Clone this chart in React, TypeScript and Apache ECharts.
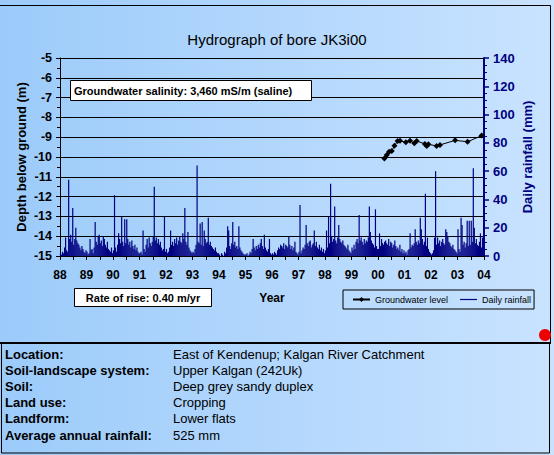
import { useEffect, useRef } from "react";
import * as echarts from "echarts";

const FONT = "'Liberation Sans', Arial, sans-serif";
const NAVY = "#000080";

// Daily rainfall (mm), ~26 readings per year (about fortnightly resolution)
const rainYears = [1988, 1989, 1990, 1991, 1992, 1993, 1994, 1995, 1996, 1997, 1998, 1999, 2000, 2001, 2002, 2003];
const rain1988 = [2, 1, 3, 2, 6, 13, 4, 3, 54, 12, 15, 10, 34, 8, 12, 20, 11, 9, 8, 6, 4, 7, 5, 3, 2, 4];
const rain1989 = [3, 1, 2, 12, 4, 5, 2, 6, 24, 10, 8, 14, 15, 9, 11, 7, 14, 12, 8, 6, 10, 5, 4, 3, 6, 2];
const rain1990 = [4, 43, 6, 3, 8, 16, 12, 9, 28, 10, 7, 26, 9, 26, 12, 8, 10, 6, 11, 7, 5, 8, 4, 6, 3, 2];
const rain1991 = [2, 3, 1, 18, 5, 3, 8, 12, 6, 13, 9, 7, 10, 14, 49, 11, 13, 9, 12, 8, 10, 6, 4, 5, 28, 3];
const rain1992 = [5, 2, 3, 6, 18, 8, 10, 7, 12, 9, 13, 8, 11, 14, 10, 9, 16, 12, 34, 10, 8, 17, 6, 4, 3, 2];
const rain1993 = [3, 2, 5, 8, 64, 10, 9, 23, 8, 24, 7, 18, 12, 9, 10, 27, 8, 10, 7, 6, 5, 4, 6, 3, 2, 2];
const rain1994 = [1, 0, 2, 1, 0, 3, 2, 6, 21, 18, 7, 5, 9, 24, 8, 10, 6, 7, 5, 21, 6, 4, 3, 2, 1, 1];
const rain1995 = [1, 2, 0, 1, 3, 2, 5, 12, 6, 4, 7, 5, 8, 6, 9, 12, 7, 5, 15, 6, 4, 3, 5, 12, 2, 1];
const rain1996 = [2, 1, 3, 2, 1, 4, 6, 5, 8, 7, 6, 9, 5, 8, 7, 6, 14, 8, 5, 7, 4, 6, 10, 3, 2, 1];
const rain1997 = [3, 36, 2, 4, 6, 5, 8, 22, 9, 7, 10, 11, 6, 8, 9, 18, 7, 10, 6, 5, 8, 4, 6, 3, 5, 2];
const rain1998 = [4, 18, 6, 28, 9, 51, 14, 10, 12, 35, 11, 9, 13, 22, 12, 10, 9, 11, 8, 7, 6, 5, 8, 4, 3, 2];
const rain1999 = [6, 4, 8, 5, 10, 12, 9, 29, 11, 13, 10, 8, 12, 9, 11, 10, 13, 35, 17, 11, 9, 8, 6, 33, 7, 5];
const rain2000 = [5, 16, 7, 12, 9, 8, 10, 11, 9, 8, 12, 7, 10, 9, 6, 8, 11, 7, 5, 6, 4, 8, 3, 5, 2, 4];
const rain2001 = [2, 3, 1, 4, 5, 16, 6, 8, 7, 9, 19, 10, 8, 11, 9, 27, 19, 12, 8, 10, 44, 7, 13, 5, 3, 2];
const rain2002 = [1, 2, 4, 13, 60, 8, 13, 9, 11, 7, 10, 12, 9, 8, 19, 17, 14, 10, 9, 7, 6, 8, 5, 4, 3, 2];
const rain2003 = [19, 5, 3, 27, 22, 8, 10, 6, 9, 25, 7, 25, 8, 25, 10, 62, 20, 9, 12, 8, 7, 10, 16, 6, 13, 4];
const rainByYear = [rain1988, rain1989, rain1990, rain1991, rain1992, rain1993, rain1994, rain1995,
  rain1996, rain1997, rain1998, rain1999, rain2000, rain2001, rain2002, rain2003];

// Groundwater level (m below ground, negative)
const gwYear = [2000.24, 2000.33, 2000.42, 2000.52, 2000.62, 2000.74, 2000.83, 2001.05, 2001.21, 2001.37,
  2001.46, 2001.77, 2001.84, 2001.9, 2002.21, 2002.34, 2002.91, 2003.38, 2003.91];
const gwDepth = [-10.07, -9.9, -9.73, -9.7, -9.43, -9.19, -9.18, -9.26, -9.18, -9.31,
  -9.19, -9.34, -9.44, -9.36, -9.44, -9.39, -9.16, -9.23, -8.92];

const infoLabels = ["Location:", "Soil-landscape system:", "Soil:", "Land use:", "Landform:", "Average annual rainfall:"];
const infoValues = ["East of Kendenup; Kalgan River Catchment", "Upper Kalgan (242Uk)", "Deep grey sandy duplex",
  "Cropping", "Lower flats", "525 mm"];

export default function App() {
  const ref = useRef<HTMLDivElement>(null);
  useEffect(() => {
    if (!ref.current) return;
    const chart = echarts.init(ref.current, undefined, { renderer: "svg" });

    const rainData: number[][] = [];
    rainYears.forEach((yr, k) => {
      const arr = rainByYear[k];
      arr.forEach((v, i) => rainData.push([yr + (i + 0.5) / arr.length, v]));
    });
    const gwData = gwYear.map((x, i) => [x, gwDepth[i]]);

    const infoGraphics: any[] = [];
    infoLabels.forEach((t, i) => {
      const y = 354 + i * 16.2;
      infoGraphics.push({
        type: "text", x: 5, y, z: 100,
        style: { text: t, fontFamily: FONT, fontSize: 13, fontWeight: "bold", fill: "#000", verticalAlign: "middle" },
      });
      infoGraphics.push({
        type: "text", x: 173, y, z: 100,
        style: { text: infoValues[i], fontFamily: FONT, fontSize: 13, fill: "#000", verticalAlign: "middle" },
      });
    });

    chart.setOption({
      animation: false,
      textStyle: { fontFamily: FONT },
      title: {
        text: "Hydrograph of bore JK3i00",
        left: "center",
        top: 27,
        textStyle: { fontFamily: FONT, fontSize: 15, fontWeight: "normal", color: "#000" },
      },
      grid: { left: 60, top: 58, width: 424, height: 198, containLabel: false },
      legend: {
        left: 343,
        top: 290,
        orient: "horizontal",
        padding: [5, 3, 5, 9],
        itemGap: 12,
        itemWidth: 17,
        itemHeight: 6,
        borderColor: "#000",
        borderWidth: 1,
        textStyle: { fontFamily: FONT, fontSize: 9, color: "#000" },
        data: [
          { name: "Groundwater level" },
          { name: "Daily rainfall", icon: "path://M0 0H20V1.4H0Z" },
        ],
      },
      xAxis: {
        type: "value",
        min: 1988,
        max: 2004,
        interval: 0.5,
        name: "Year",
        nameLocation: "middle",
        nameGap: 36,
        nameMoveOverlap: false,
        nameTextStyle: { fontFamily: FONT, fontSize: 12, fontWeight: "bold", color: "#000" },
        axisLine: { lineStyle: { color: "#000", width: 1 } },
        axisTick: { show: true, length: 4, lineStyle: { color: "#000" } },
        axisLabel: {
          margin: 13,
          fontFamily: FONT,
          fontSize: 12,
          fontWeight: "bold",
          color: "#000",
          formatter: (v: number) =>
            Math.abs(v - Math.round(v)) < 1e-6 ? String(Math.round(v) % 100).padStart(2, "0") : "",
        },
        splitLine: { show: false },
      },
      yAxis: [
        {
          type: "value",
          min: -15,
          max: -5,
          interval: 1,
          position: "left",
          name: "Depth below ground (m)",
          nameLocation: "middle",
          nameRotate: 90,
          nameGap: 32,
          nameMoveOverlap: false,
          nameTextStyle: { fontFamily: FONT, fontSize: 13, fontWeight: "bold", color: "#000" },
          axisLine: { show: true, lineStyle: { color: "#000", width: 1 } },
          axisTick: { show: true, length: 4, lineStyle: { color: "#000" } },
          minorTick: { show: true, splitNumber: 2, length: 3, lineStyle: { color: "#000" } },
          axisLabel: { margin: 8, fontFamily: FONT, fontSize: 12.5, fontWeight: "bold", color: "#000" },
          splitLine: { show: true, lineStyle: { color: "#000", width: 1 } },
        },
        {
          type: "value",
          min: 0,
          max: 140,
          interval: 20,
          position: "right",
          name: "Daily rainfall (mm)",
          nameLocation: "middle",
          nameRotate: 90,
          nameGap: 37,
          nameMoveOverlap: false,
          nameTextStyle: { fontFamily: FONT, fontSize: 13, fontWeight: "bold", color: NAVY },
          axisLine: { show: true, lineStyle: { color: NAVY, width: 2 } },
          axisTick: { show: true, length: 5, lineStyle: { color: NAVY, width: 1.5 } },
          minorTick: { show: true, splitNumber: 4, length: 3, lineStyle: { color: NAVY } },
          axisLabel: { margin: 9, fontFamily: FONT, fontSize: 13, fontWeight: "bold", color: NAVY },
          splitLine: { show: false },
        },
      ],
      series: [
        {
          name: "Daily rainfall",
          type: "bar",
          xAxisIndex: 0,
          yAxisIndex: 1,
          barWidth: 1.2,
          itemStyle: { color: NAVY },
          data: rainData,
          z: 2,
        },
        {
          name: "Groundwater level",
          type: "line",
          xAxisIndex: 0,
          yAxisIndex: 0,
          symbol: "diamond",
          symbolSize: 6,
          itemStyle: { color: "#000" },
          lineStyle: { color: "#000", width: 1 },
          data: gwData,
          z: 3,
        },
      ],
      graphic: [
        // outer chart frame
        { type: "line", z: 100, shape: { x1: 0, y1: 5.5, x2: 550.5, y2: 5.5 }, style: { stroke: "#000", lineWidth: 1 } },
        { type: "line", z: 100, shape: { x1: 550.5, y1: 5.5, x2: 550.5, y2: 343 }, style: { stroke: "#000", lineWidth: 1 } },
        // salinity box
        { type: "rect", z: 100, shape: { x: 70.5, y: 80.5, width: 241, height: 20 }, style: { fill: "#fff", stroke: "#000", lineWidth: 1 } },
        {
          type: "text", z: 101, x: 74, y: 91,
          style: { text: "Groundwater salinity: 3,460 mS/m (saline)", fontFamily: FONT, fontSize: 11, fontWeight: "bold", fill: "#000", verticalAlign: "middle" },
        },
        // rate of rise box
        { type: "rect", z: 100, shape: { x: 74.5, y: 288.5, width: 137, height: 18 }, style: { fill: "#fff", stroke: "#000", lineWidth: 1 } },
        {
          type: "text", z: 101, x: 143, y: 298,
          style: { text: "Rate of rise: 0.40 m/yr", fontFamily: FONT, fontSize: 11, fontWeight: "bold", fill: "#000", align: "center", verticalAlign: "middle" },
        },
        // red marker
        { type: "circle", z: 102, shape: { cx: 545, cy: 335, r: 6 }, style: { fill: "#ee0000" } },
        // info panel
        { type: "rect", z: 99, shape: { x: 1.5, y: 343, width: 548, height: 110 }, style: { fill: "none", stroke: "#000", lineWidth: 1 } },
        { type: "line", z: 100, shape: { x1: 0, y1: 343, x2: 551, y2: 343 }, style: { stroke: "#000", lineWidth: 2 } },
        ...infoGraphics,
      ],
    });
    return () => chart.dispose();
  }, []);

  return (
    <div
      style={{
        position: "fixed",
        left: 0,
        top: 0,
        width: 554,
        height: 455,
        background: "linear-gradient(to right, #9ccbfa, #c9e3ff)",
      }}
    >
      <div ref={ref} style={{ width: 554, height: 455 }} />
    </div>
  );
}
